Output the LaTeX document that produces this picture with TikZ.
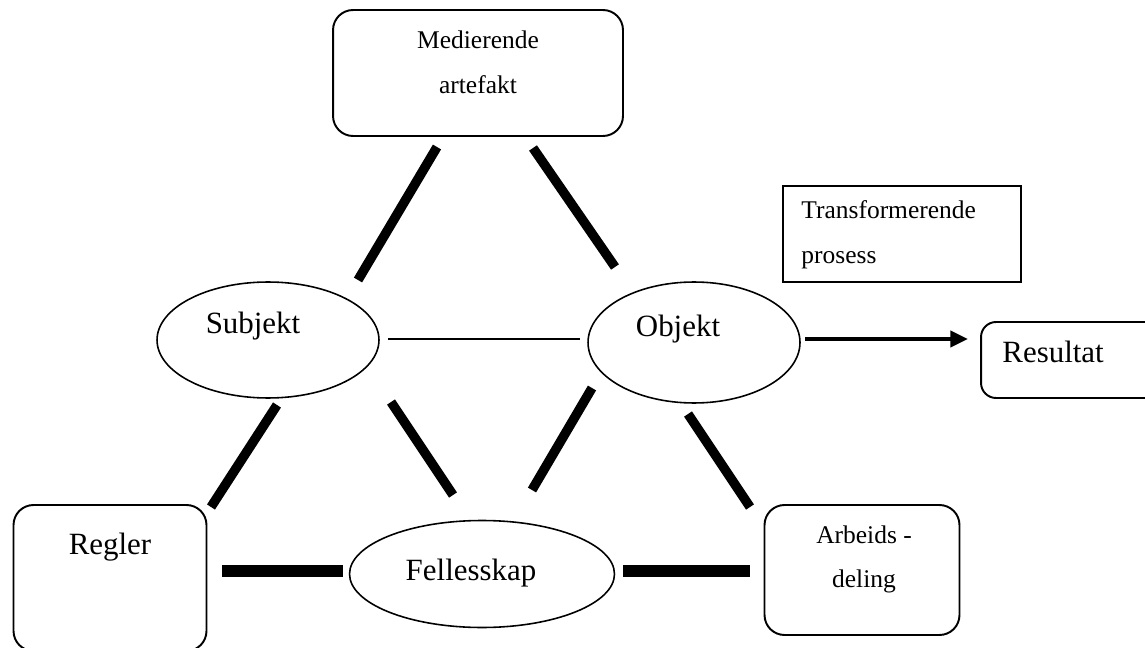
\documentclass[tikz,border=0pt]{standalone}
\usepackage{fontspec}
\setmainfont{Liberation Serif}
\usetikzlibrary{shapes.geometric,arrows.meta}
\tikzset{
  bigtxt/.style={font=\fontsize{17.6}{21}\selectfont, inner sep=0pt},
  smalltxt/.style={font=\fontsize{14.5}{25.5}\selectfont, inner sep=0pt, align=center},
  rbox/.style={draw, line width=1.1pt, rounded corners=0.4cm, inner sep=0pt},
  sbox/.style={draw, line width=1.1pt, inner sep=0pt},
  ell/.style={draw, ellipse, line width=0.9pt, inner sep=0pt},
  thickline/.style={line width=5.4pt},
  flatline/.style={line width=6.8pt},
  thinline/.style={line width=1.7pt},
  arrowline/.style={line width=2.3pt, -{Triangle[length=10pt,width=9pt]}}
}
\begin{document}
\begin{tikzpicture}[x=0.02cm,y=-0.02cm]
\useasboundingbox (0,0) rectangle (1145,648);
\clip (0,0) rectangle (1145,648);
\fill[white] (0,0) rectangle (1145,648);

% boxes
\node[rbox, minimum width=5.8cm, minimum height=2.52cm,
  label={[smalltxt, anchor=center, yshift=0.22cm]center:{Medierende\\artefakt}}] (med) at (478,73) {};
\node[sbox, minimum width=4.76cm, minimum height=1.92cm,
  label={[smalltxt, align=left, anchor=west, xshift=0.38cm, yshift=-0.02cm]west:{Transformerende\\prosess}}] (trans) at (902,234) {};
\node[rbox, rounded corners=0.3cm, minimum width=3.7cm, minimum height=1.52cm,
  label={[bigtxt, anchor=west, xshift=0.44cm, yshift=0.16cm]west:{Resultat}}] (res) at (1073.5,360) {};
\node[rbox, minimum width=3.86cm, minimum height=2.92cm,
  label={[bigtxt, anchor=center, yshift=0.62cm]center:{Regler}}] (regl) at (110,578) {};
\node[rbox, minimum width=3.9cm, minimum height=2.6cm,
  label={[smalltxt, anchor=center, xshift=0.04cm, yshift=0.21cm]center:{Arbeids -\\deling}}] (arb) at (862,570) {};

% ellipses
\node[ell, minimum width=4.44cm, minimum height=2.32cm,
  label={[bigtxt, anchor=center, xshift=-0.3cm, yshift=0.28cm]center:{Subjekt}}] (subj) at (268,340) {};
\node[ell, minimum width=4.24cm, minimum height=2.42cm,
  label={[bigtxt, anchor=center, xshift=-0.32cm, yshift=0.27cm]center:{Objekt}}] (obj) at (694,342.5) {};
\node[ell, minimum width=5.3cm, minimum height=2.14cm,
  label={[bigtxt, anchor=center, xshift=-0.22cm, yshift=0.02cm]center:{Fellesskap}}] (fell) at (482,574) {};

% connectors
\draw[thickline] ([shift={(-41,74)}]med.center) -- ([shift={(90,-60)}]subj.center);
\draw[thickline] ([shift={(55,75)}]med.center) -- ([shift={(-79,-75.5)}]obj.center);
\draw[thinline] ([shift={(120,-1)}]subj.center) -- ([shift={(-114,-3.5)}]obj.center);
\draw[arrowline] ([shift={(111,-3.5)}]obj.center) -- ([shift={(-105.5,-21)}]res.center);
\draw[thickline] ([shift={(9,65)}]subj.center) -- ([shift={(101,-71)}]regl.center);
\draw[thickline] ([shift={(123,62)}]subj.center) -- ([shift={(-29,-79)}]fell.center);
\draw[thickline] ([shift={(-102,45.5)}]obj.center) -- ([shift={(50,-84)}]fell.center);
\draw[thickline] ([shift={(-6,71.5)}]obj.center) -- ([shift={(-112,-63)}]arb.center);
\draw[flatline] ([shift={(112,-7)}]regl.center) -- ([shift={(-139,-3)}]fell.center);
\draw[flatline] ([shift={(141,-3)}]fell.center) -- ([shift={(-112,1)}]arb.center);
\end{tikzpicture}
\end{document}
